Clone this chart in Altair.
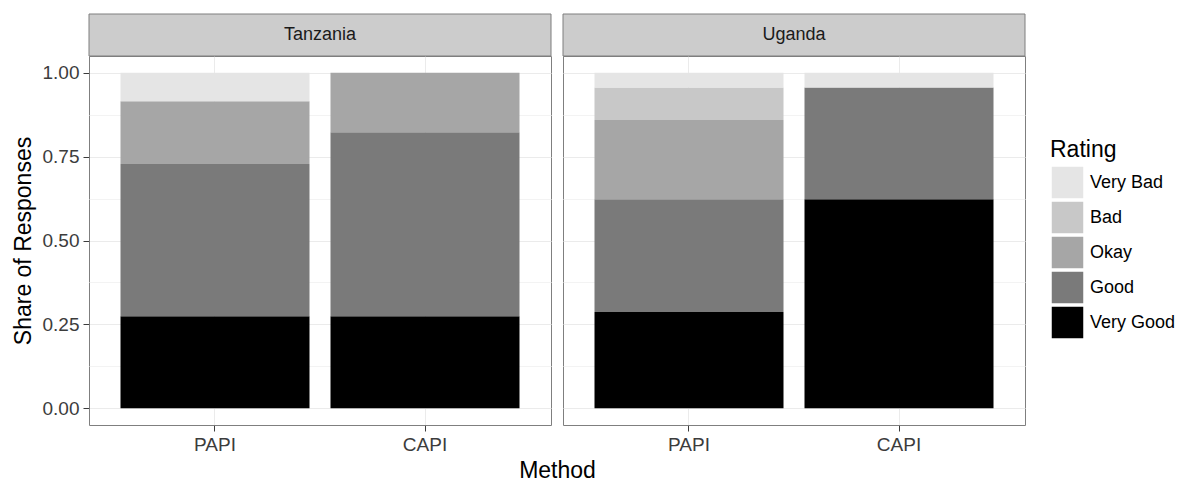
import altair as alt
import pandas as pd

countries = ["Tanzania", "Uganda"]
methods = ["PAPI", "CAPI"]
ratings = ["Very Bad", "Bad", "Okay", "Good", "Very Good"]
greys = ["#E5E5E5", "#C8C8C8", "#A6A6A6", "#7A7A7A", "#000000"]

# shares ordered Very Good, Good, Okay, Bad, Very Bad (bottom to top)
stack_order = ["Very Good", "Good", "Okay", "Bad", "Very Bad"]
tz_papi = [0.274, 0.454, 0.187, 0.0, 0.085]
tz_capi = [0.274, 0.549, 0.177, 0.0, 0.0]
ug_papi = [0.287, 0.336, 0.236, 0.097, 0.044]
ug_capi = [0.623, 0.333, 0.0, 0.0, 0.044]

shares = {
    ("Tanzania", "PAPI"): tz_papi,
    ("Tanzania", "CAPI"): tz_capi,
    ("Uganda", "PAPI"): ug_papi,
    ("Uganda", "CAPI"): ug_capi,
}

rows = []
for (c, m), vals in shares.items():
    for i, (r, v) in enumerate(zip(stack_order, vals)):
        if v > 0:
            rows.append({"Country": c, "Method": m, "Rating": r, "Share": v, "ord": i})
df = pd.DataFrame(rows)

W, H = 462, 369
STRIP = 42
FONT = "Liberation Sans"

minor_test = "(datum.value * 4) % 1 != 0"


def panel(country, first):
    d = df[df.Country == country]
    if first:
        yaxis = alt.Axis(
            values=[0, 0.125, 0.25, 0.375, 0.5, 0.625, 0.75, 0.875, 1.0],
            labelExpr="(datum.value * 4) % 1 == 0 ? format(datum.value, '.2f') : ''",
            title="Share of Responses",
            tickOpacity={"condition": {"test": minor_test, "value": 0}, "value": 1},
            gridColor={"condition": {"test": minor_test, "value": "#F3F3F3"}, "value": "#EBEBEB"},
            domain=False,
        )
    else:
        yaxis = alt.Axis(
            values=[0, 0.125, 0.25, 0.375, 0.5, 0.625, 0.75, 0.875, 1.0],
            title=None, labels=False, ticks=False, domain=False,
            minExtent=0, maxExtent=0, offset=0,
            gridColor={"condition": {"test": minor_test, "value": "#F3F3F3"}, "value": "#EBEBEB"},
        )
    xaxis = alt.Axis(
        title="Method" if first else None,
        titleX=W + 6,
        titleAlign="center",
        labelAngle=0,
        domain=False,
        grid=True,
        bandPosition=0.5,
    )
    bars = alt.Chart(d).mark_bar().encode(
        x=alt.X("Method:N", sort=methods,
                scale=alt.Scale(domain=methods, paddingInner=0.1, paddingOuter=0.15),
                axis=xaxis),
        y=alt.Y("Share:Q", stack="zero",
                scale=alt.Scale(domain=[-0.05, 1.05], nice=False, zero=False),
                axis=yaxis),
        color=alt.Color("Rating:N",
                        scale=alt.Scale(domain=ratings, range=greys),
                        legend=alt.Legend(
                            title="Rating", orient="none",
                            legendX=961, legendY=83,
                            symbolType="square", symbolSize=1089,
                            symbolStrokeColor="#FFFFFF", symbolStrokeWidth=1.5,
                            symbolOpacity=1,
                            rowPadding=2, clipHeight=33, labelOffset=5,
                            titleFontSize=23, titleFontWeight="normal",
                            titleColor="#000000", labelFontSize=18,
                            labelColor="#000000", titleFont=FONT, labelFont=FONT,
                            titlePadding=4,
                        )),
        order=alt.Order("ord:Q"),
    )
    sd = pd.DataFrame({"Country": [country]})
    strip = alt.Chart(sd).mark_rect(fill="#CCCCCC", stroke="#7F7F7F", strokeWidth=1).encode(
        x=alt.value(0), x2=alt.value(W), y=alt.value(-STRIP), y2=alt.value(0)
    )
    label = alt.Chart(sd).mark_text(fontSize=18, font=FONT, color="#1A1A1A").encode(
        text="Country:N", x=alt.value(W / 2), y=alt.value(-STRIP / 2)
    )
    return alt.layer(bars, strip, label).properties(width=W, height=H)


chart = alt.hconcat(
    panel("Tanzania", True), panel("Uganda", False), spacing=12, bounds="flush"
).configure_view(
    stroke="#7F7F7F", strokeWidth=1
).configure_axis(
    labelFont=FONT, titleFont=FONT, labelFontSize=19, labelColor="#3C3C3C",
    titleFontSize=23, titleFontWeight="normal", titleColor="#000000",
    tickColor="#3C3C3C", tickSize=6, labelPadding=4,
    gridColor="#EBEBEB",
).configure_axisY(
    titlePadding=7,
).configure_axisX(
    titlePadding=5,
).properties(background="white", padding={"left": 3, "top": 5, "right": 0, "bottom": 0})

chart.save("out.html", embed_options={"renderer": "svg", "actions": False})
